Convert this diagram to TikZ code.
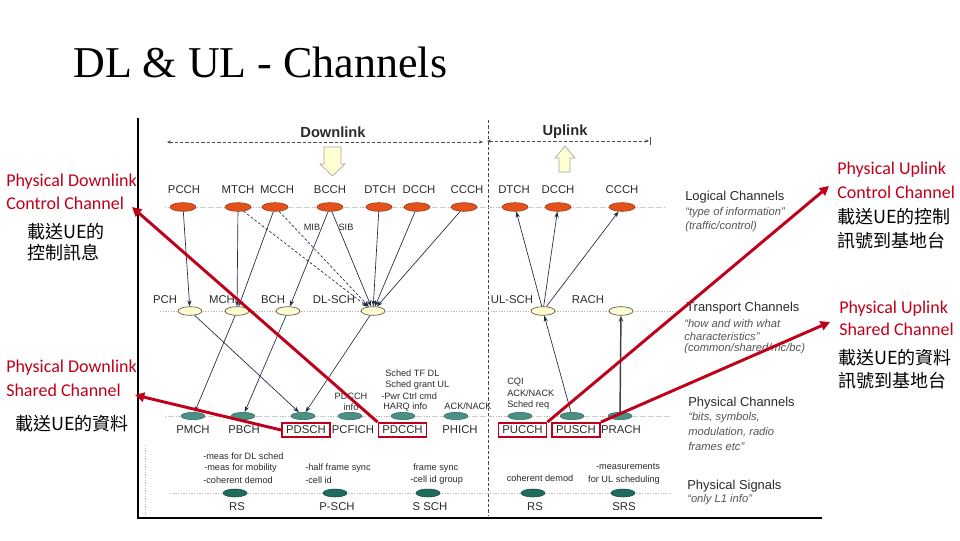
\documentclass[tikz,border=0pt]{standalone}
\usepackage{fontspec}
\setmainfont{Liberation Sans}
\newfontfamily\titlefont{Liberation Serif}
\newfontfamily\calib{Carlito}
\newfontfamily\cjk{Noto Sans CJK TC}
\usetikzlibrary{arrows.meta,shapes.geometric}
\definecolor{lgfill}{HTML}{E4521B}
\definecolor{lgdraw}{HTML}{9A2E0E}
\definecolor{trfill}{HTML}{FFFBD2}
\definecolor{trdraw}{HTML}{5A5A3A}
\definecolor{phfill}{HTML}{4C8F85}
\definecolor{phdraw}{HTML}{2D6A60}
\definecolor{sgfill}{HTML}{1F6B5E}
\definecolor{sgdraw}{HTML}{124A40}
\definecolor{navy}{HTML}{1E2B45}
\definecolor{txt}{HTML}{2B2B2B}
\definecolor{itx}{HTML}{555555}
\definecolor{redc}{HTML}{C0001A}
\definecolor{dotc}{HTML}{B8B8B8}
\definecolor{blkfill}{HTML}{FFFFD2}
\begin{document}
\begin{tikzpicture}[x=0.75pt,y=-0.75pt,
  logic/.style={ellipse, draw=lgdraw, fill=lgfill, line width=0.4pt, minimum width=19.5pt, minimum height=6.5pt, inner sep=0pt},
  trans/.style={ellipse, draw=trdraw, fill=trfill, line width=0.5pt, minimum width=18pt, minimum height=6.5pt, inner sep=0pt},
  phys/.style={ellipse, draw=phdraw, fill=phfill, line width=0.4pt, minimum width=18pt, minimum height=5.5pt, inner sep=0pt},
  sig/.style={ellipse, draw=sgdraw, fill=sgfill, line width=0.4pt, minimum width=18pt, minimum height=6pt, inner sep=0pt},
  chl/.style={font=\fontsize{8.5}{10}\selectfont, text=txt, inner sep=0pt},
  rbox/.style={chl, draw=redc, line width=1.4pt, minimum width=36pt, minimum height=10.5pt, inner sep=1pt},
  ann/.style={font=\fontsize{6.9}{8}\selectfont, text=txt, inner sep=0pt},
  hd/.style={font=\fontsize{9.7}{11}\selectfont, text=txt, inner sep=0pt, anchor=west},
  itl/.style={font=\itshape\fontsize{8.4}{10}\selectfont, text=itx, inner sep=0pt, anchor=west},
  redtxt/.style={font=\calib\fontsize{13.5}{16}\selectfont, text=redc, inner sep=0pt, anchor=west},
  cjktxt/.style={font=\cjk\fontsize{13.5}{16}\selectfont, text=black, inner sep=0pt, anchor=west},
  arr/.style={draw=navy, line width=0.5pt, -{Stealth[length=4.5pt,width=3.2pt]}},
  darr/.style={arr, dash pattern=on 2pt off 1.5pt},
  lvl/.style={draw=dotc, line width=0.5pt, dash pattern=on 1pt off 1pt},
  hdrline/.style={draw=gray!60!black, line width=0.5pt, dash pattern=on 2.5pt off 1.5pt},
  blk/.style={draw=gray!70, fill=blkfill, line width=0.5pt},
  redarr/.style={draw=redc, line width=2.2pt, -{Triangle[length=7pt,width=7pt]}}
]
\useasboundingbox (0,0) rectangle (960,540);
\fill[white] (0,0) rectangle (960,540);

% title
\node[anchor=base west, inner sep=0pt, font=\titlefont\fontsize{33}{36}\selectfont] (title) at (73,77) {DL \& UL - Channels};

% embedded picture frame
\draw[black, line width=0.9pt] (138,118) -- (138,518) -- (822,518);
\draw[lvl] (145,445) -- (145,515);

% headers
\node[font=\bfseries\fontsize{11}{13}\selectfont, text=txt, inner sep=0pt] (dl) at (333,132) {Downlink};
\node[font=\bfseries\fontsize{11}{13}\selectfont, text=txt, inner sep=0pt] (ul) at (565,132) {Uplink};
\draw[hdrline, {Stealth[length=3pt,width=2.5pt]}-{Stealth[length=3pt,width=2.5pt]}] (167,142) -- (483,142);
\draw[hdrline, {Stealth[length=3pt,width=2.5pt]}-{Stealth[length=3pt,width=2.5pt]}] (487,141) -- (649,141);
\draw[gray!60!black, line width=0.6pt] (650,137) -- (650,145);
\draw[hdrline] (488,120) -- (488,515);

% block arrows
\draw[blk] (324,147) -- (341,147) -- (341,164) -- (345,164) -- (332.5,176) -- (320,164) -- (324,164) -- cycle;
\draw[blk] (565,146) -- (575,158) -- (570,158) -- (570,172) -- (559,172) -- (559,158) -- (555,158) -- cycle;

% level lines
\draw[lvl] (165,207) -- (665,207);
\draw[lvl] (160,311) -- (680,311);
\draw[lvl] (165,416) -- (670,416);
\draw[lvl] (170,493) -- (670,493);

% logical channels
\node[logic] (lPCCH) at (183,207) {};
\node[logic] (lMTCH) at (238,207) {};
\node[logic] (lMCCH) at (275,207) {};
\node[logic] (lBCCH) at (330,207) {};
\node[logic] (lDTCH) at (379,207) {};
\node[logic] (lDCCH) at (417,207) {};
\node[logic] (lCCCH) at (464,207) {};
\node[logic] (luDTCH) at (515,207) {};
\node[logic] (luDCCH) at (558,207) {};
\node[logic] (luCCCH) at (622,207) {};
\node[chl] (tPCCH) at (184,190) {PCCH};
\node[chl] (tMTCH) at (238,190) {MTCH};
\node[chl] (tMCCH) at (277,190) {MCCH};
\node[chl] (tBCCH) at (330,190) {BCCH};
\node[chl] (tDTCH) at (380,190) {DTCH};
\node[chl] (tDCCH) at (419,190) {DCCH};
\node[chl] (tCCCH) at (467,190) {CCCH};
\node[chl] (tuDTCH) at (514,190) {DTCH};
\node[chl] (tuDCCH) at (558,190) {DCCH};
\node[chl] (tuCCCH) at (622,190) {CCCH};

% transport channels
\node[trans] (rPCH) at (190,311) {};
\node[trans] (rMCH) at (237,311) {};
\node[trans] (rBCH) at (288,311) {};
\node[trans] (rDLSCH) at (373,311) {};
\node[trans] (rULSCH) at (543,311) {};
\node[trans] (rRACH) at (621,311) {};
\node[chl] (xPCH) at (165,300) {PCH};
\node[chl] (xMCH) at (222,300) {MCH};
\node[chl] (xBCH) at (273,300) {BCH};
\node[chl] (xDLSCH) at (334,300) {DL-SCH};
\node[chl] (xULSCH) at (512,300) {UL-SCH};
\node[chl] (xRACH) at (588,300) {RACH};

% physical channels
\node[phys] (pPMCH) at (193,416) {};
\node[phys] (pPBCH) at (243,416) {};
\node[phys] (pPDSCH) at (303,416) {};
\node[phys] (pPCFICH) at (350,416) {};
\node[phys] (pPDCCH) at (403,416) {};
\node[phys] (pPHICH) at (456,416) {};
\node[phys] (pPUCCH) at (520,416) {};
\node[phys] (pPUSCH) at (572,416) {};
\node[phys] (pPRACH) at (620,416) {};
\node[chl] (yPMCH) at (193,429.5) {PMCH};
\node[chl] (yPBCH) at (244,429.5) {PBCH};
\node[rbox] (yPDSCH) at (306,430) {PDSCH};
\node[chl] (yPCFICH) at (353,429.5) {PCFICH};
\node[rbox] (yPDCCH) at (402.5,430) {PDCCH};
\node[chl] (yPHICH) at (460,429.5) {PHICH};
\node[rbox] (yPUCCH) at (522.5,430) {PUCCH};
\node[rbox] (yPUSCH) at (576,430) {PUSCH};
\node[chl] (yPRACH) at (621,429.5) {PRACH};

% physical annotations
\node[ann] (aPDCCH1) at (351,396) {PDCCH};
\node[ann] (aPDCCH2) at (351,407) {info};
\node[ann, anchor=west] (aS1) at (385,373) {Sched TF DL};
\node[ann, anchor=west] (aS2) at (385,385) {Sched grant UL};
\node[ann, anchor=west] (aS3) at (381,396) {-Pwr Ctrl cmd};
\node[ann, anchor=west] (aS4) at (383,407) {HARQ info};
\node[ann] (aACK) at (468,406) {ACK/NACK};
\node[ann, anchor=west] (aU1) at (507,382) {CQI};
\node[ann, anchor=west] (aU2) at (507,393) {ACK/NACK};
\node[ann, anchor=west] (aU3) at (507,405) {Sched req};

% physical signals
\node[sig] (sRS) at (235,493) {};
\node[sig] (sPSCH) at (335,493) {};
\node[sig] (sSSCH) at (428,493) {};
\node[sig] (suRS) at (533,493) {};
\node[sig] (sSRS) at (623,493) {};
\node[chl] (zRS) at (237,507) {RS};
\node[chl] (zPSCH) at (337,507) {P-SCH};
\node[chl] (zSSCH) at (430,507) {S SCH};
\node[chl] (zuRS) at (535,507) {RS};
\node[chl] (zSRS) at (624,507) {SRS};
\node[ann, anchor=west] (b1) at (203,456) {-meas for DL sched};
\node[ann, anchor=west] (b2) at (204,468) {-meas for mobility};
\node[ann, anchor=west] (b3) at (203,480) {-coherent demod};
\node[ann, anchor=west] (b4) at (305,468) {-half frame sync};
\node[ann, anchor=west] (b5) at (305,480) {-cell id};
\node[ann, anchor=west] (b6) at (413,468) {frame sync};
\node[ann, anchor=west] (b7) at (410,480) {-cell id group};
\node[ann] (b8) at (540,478) {coherent demod};
\node[ann] (b9) at (628,467) {-measurements};
\node[ann] (b10) at (624,480) {for UL scheduling};

% right-hand legend
\node[hd] (hLog) at (685,197) {Logical Channels};
\node[itl] (iLog1) at (685,213) {“type of information”};
\node[itl] (iLog2) at (685,227) {(traffic/control)};
\node[hd] (hTr) at (686,308) {Transport Channels};
\node[itl] (iTr1) at (684,323) {“how and with what};
\node[itl] (iTr2) at (684,336) {characteristics”};
\node[itl] (iTr3) at (684,349) {(common/shared/mc/bc)};
\node[hd] (hPh) at (688,403) {Physical Channels};
\node[itl] (iPh1) at (688,418) {“bits, symbols,};
\node[itl] (iPh2) at (688,432) {modulation, radio};
\node[itl] (iPh3) at (688,446) {frames etc”};
\node[hd] (hSg) at (687,486) {Physical Signals};
\node[itl] (iSg1) at (687,500) {“only L1 info”};

% logical -> transport
\draw[arr] (lPCCH) -- (rPCH);
\draw[arr] (lMTCH) -- (rMCH);
\draw[arr] (lMCCH) -- (rMCH);
\draw[darr] (lMTCH) -- (rDLSCH);
\draw[darr] (lMCCH) -- (rDLSCH);
\draw[arr] (lBCCH) -- (rBCH);
\draw[arr] (lBCCH) -- (rDLSCH);
\draw[arr] (lDTCH) -- (rDLSCH);
\draw[arr] (lDCCH) -- (rDLSCH);
\draw[arr] (lCCCH) -- (rDLSCH);
\node[ann] (mib) at (312,227) {MIB};
\node[ann] (sib) at (346,227) {SIB};
\draw[arr] (rULSCH) -- (luDTCH);
\draw[arr] (rULSCH) -- (luDCCH);
\draw[arr] (rULSCH) -- (luCCCH);

% transport -> physical
\draw[arr] (rPCH) -- (pPDSCH);
\draw[arr] (rMCH) -- (pPMCH);
\draw[arr] (rBCH) -- (pPBCH);
\draw[arr] (rDLSCH) -- (pPDSCH);
\draw[arr] (pPUSCH) -- (rULSCH);
\draw[draw=gray!50!black, line width=1.1pt, -{Stealth[length=4.5pt,width=3.5pt]}] (pPRACH) -- (rRACH);

% red side labels
\node[redtxt] (lab1a) at (6,182) {Physical Downlink};
\node[redtxt] (lab1b) at (6,203) {Control Channel};
\node[cjktxt] (lab1c) at (27,232) {載送UE的};
\node[cjktxt] (lab1d) at (27,253) {控制訊息};
\node[redtxt] (lab2a) at (6,368) {Physical Downlink};
\node[redtxt] (lab2b) at (6,390) {Shared Channel};
\node[cjktxt] (lab2c) at (15,424) {載送UE的資料};
\node[redtxt] (lab3a) at (837,170) {Physical Uplink};
\node[redtxt] (lab3b) at (837,192) {Control Channel};
\node[cjktxt] (lab3c) at (837,217) {載送UE的控制};
\node[cjktxt] (lab3d) at (837,241) {訊號到基地台};
\node[redtxt] (lab4a) at (839,309) {Physical Uplink};
\node[redtxt] (lab4b) at (839,329) {Shared Channel};
\node[cjktxt] (lab4c) at (838,358) {載送UE的資料};
\node[cjktxt] (lab4d) at (838,381) {訊號到基地台};

% red pointers
\coordinate (tipA) at (132,207);
\coordinate (tipB) at (135,395);
\coordinate (tipC) at (829,186);
\coordinate (tipD) at (830,322);
\draw[redarr] (yPDCCH.north west) -- (tipA);
\draw[redarr] (yPDSCH.west) -- (tipB);
\draw[redarr] (yPUCCH.north east) -- (tipC);
\draw[redarr] (yPUSCH.north east) -- (tipD);
\end{tikzpicture}
\end{document}
